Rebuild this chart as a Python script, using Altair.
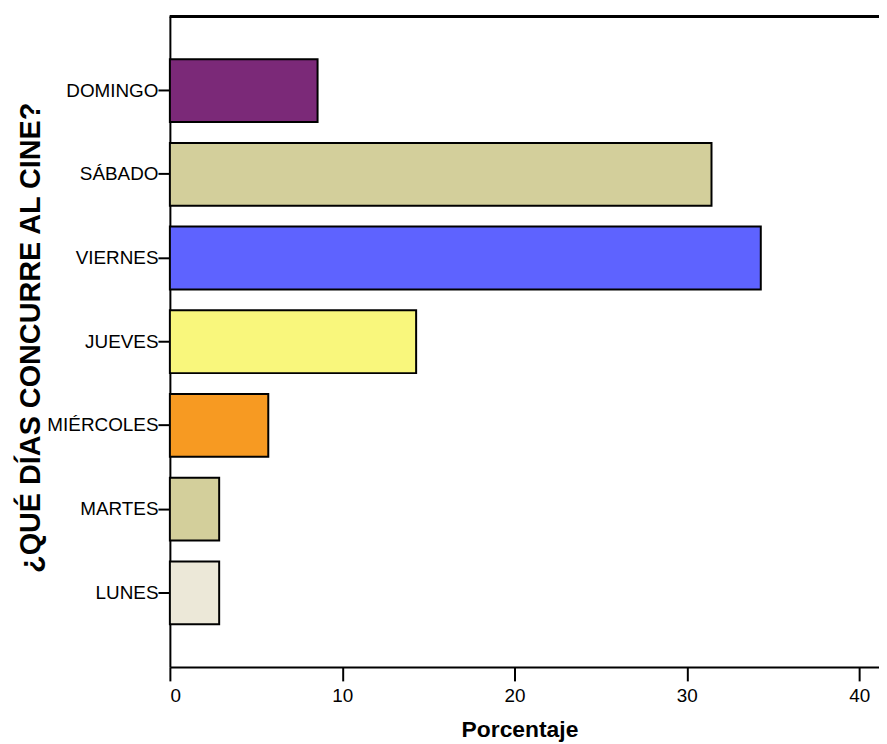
import altair as alt
import pandas as pd

dias = ["DOMINGO", "SÁBADO", "VIERNES", "JUEVES", "MIÉRCOLES", "MARTES", "LUNES"]
porcentaje = [8.57, 31.43, 34.29, 14.29, 5.71, 2.86, 2.86]
colores = ["#7B2978", "#D3CF9B", "#5E63FF", "#F9F77C", "#F79A22", "#D3CF9B", "#ECE8D8"]
x_ticks = [0, 10, 20, 30, 40]

df = pd.DataFrame({"dia": dias, "pct": porcentaje, "color": colores})

W, H = 714, 655
FONT = "Liberation Sans"

bars = alt.Chart(df).mark_bar(stroke="black", strokeWidth=2).encode(
    x=alt.X("pct:Q",
            scale=alt.Scale(domain=[0, 41.15], nice=False, zero=True),
            axis=alt.Axis(values=x_ticks, title="Porcentaje", grid=False,
                          domainColor="black", domainWidth=2,
                          tickColor="black", tickWidth=2, tickSize=14,
                          labelFont=FONT, labelFontSize=19, labelColor="black",
                          labelPadding=6,
                          titleFont=FONT, titleFontSize=23, titleFontWeight="bold",
                          titleColor="black", titleX=352, titleY=70,
                          titleBaseline="alphabetic", titleAlign="center")),
    y=alt.Y("dia:N", sort=dias,
            scale=alt.Scale(paddingInner=0.25, paddingOuter=0.51),
            axis=alt.Axis(title="¿QUÉ DÍAS CONCURRE AL CINE?", grid=False,
                          domainColor="black", domainWidth=2,
                          tickColor="black", tickWidth=2, tickSize=12,
                          labelFont=FONT, labelFontSize=19, labelColor="black",
                          labelPadding=0,
                          titleFont=FONT, titleFontSize=29, titleFontWeight="bold",
                          titleColor="black", titleX=-131, titleY=323,
                          titleAngle=-90, titleBaseline="alphabetic",
                          titleAlign="center")),
    color=alt.Color("color:N", scale=None, legend=None),
)

top_line = alt.Chart(df).mark_rule(color="black", strokeWidth=2).encode(
    x=alt.value(0), x2=alt.value(W), y=alt.value(0)
)

chart = alt.layer(bars, top_line).properties(
    width=W, height=H,
    autosize=alt.AutoSizeParams(type="none"),
    padding={"left": 163, "top": 6, "right": 0, "bottom": 74},
).configure_view(stroke=None).configure(background="white")

chart.save("out.html", embed_options={"renderer": "svg", "actions": False})
